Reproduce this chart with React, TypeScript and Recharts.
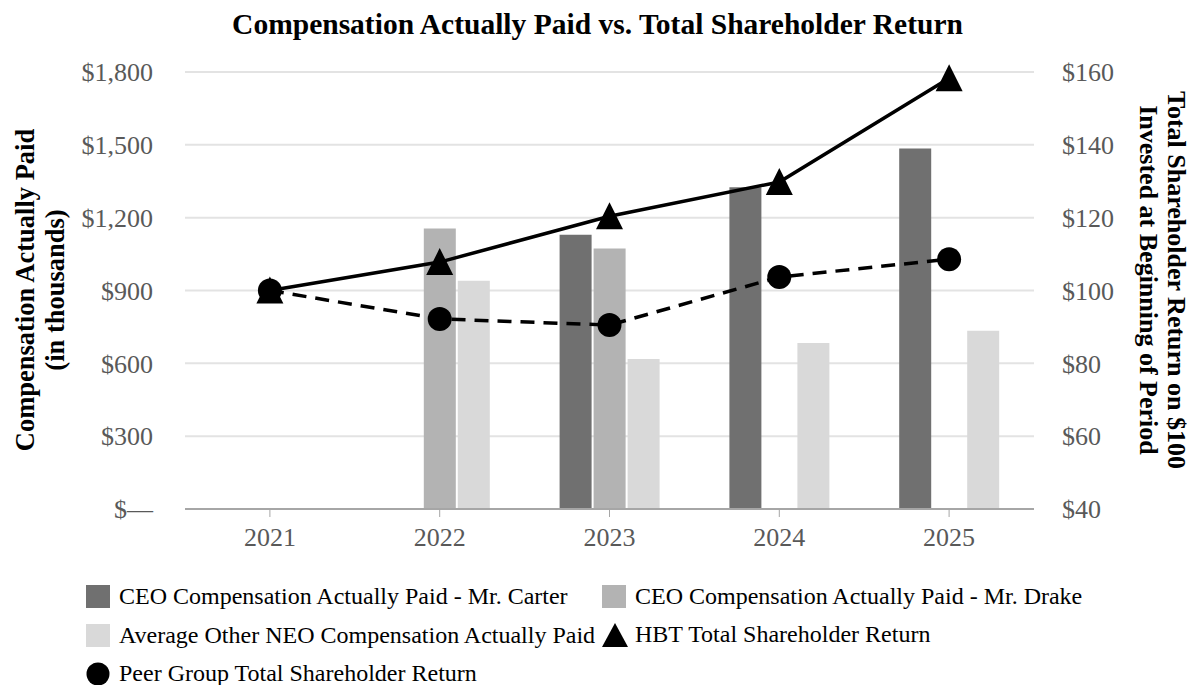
import React from 'react';
import { ComposedChart, Bar, Line, XAxis, YAxis, CartesianGrid } from 'recharts';

const years = ['2021', '2022', '2023', '2024', '2025'];
const carterCap = [null, null, 1130, 1325, 1485];
const drakeCap = [null, 1155, 1073, null, null];
const otherNeoCap = [null, 940, 618, 684, 734];
const hbtTsr = [100, 107.8, 120.4, 129.8, 158.3];
const peerTsr = [100, 92.2, 90.5, 103.7, 108.6];

const leftTicks = [0, 300, 600, 900, 1200, 1500, 1800];
const rightTicks = [40, 60, 80, 100, 120, 140, 160];

const data = years.map((year, i) => ({
  year,
  carter: carterCap[i],
  drake: drakeCap[i],
  other: otherNeoCap[i],
  hbt: hbtTsr[i],
  peer: peerTsr[i],
}));

const FONT = "'Liberation Serif', 'Times New Roman', serif";
const TICK_GRAY = '#595959';

const fmtLeft = (v: number) => (v === 0 ? '$—' : '$' + v.toLocaleString('en-US'));
const fmtRight = (v: number) => '$' + v;

const Triangle = (props: any) => {
  const { cx, cy } = props;
  if (cx == null || cy == null) return null;
  return <path d={`M${cx},${cy - 14} L${cx + 13.5},${cy + 13} L${cx - 13.5},${cy + 13} Z`} fill="#000" />;
};

const Circle = (props: any) => {
  const { cx, cy } = props;
  if (cx == null || cy == null) return null;
  return <circle cx={cx} cy={cy} r={12} fill="#000" />;
};

const Swatch = ({ color }: { color: string }) => (
  <span style={{ display: 'inline-block', width: 24, height: 23, background: color, marginRight: 9 }} />
);

const legendRow: React.CSSProperties = { position: 'absolute', display: 'flex', alignItems: 'center', whiteSpace: 'nowrap' };

export default function App() {
  return (
    <div style={{ position: 'relative', width: 1195, height: 685, fontFamily: FONT, background: '#fff', overflow: 'hidden' }}>
      <style>{`body{margin:0}`}</style>

      {/* Title */}
      <div style={{ position: 'absolute', top: 7, left: 0, width: 1195, textAlign: 'center', fontSize: 29.5, fontWeight: 'bold', lineHeight: '34px' }}>
        Compensation Actually Paid vs. Total Shareholder Return
      </div>

      <ComposedChart
        width={1195}
        height={560}
        data={data}
        margin={{ top: 72, right: 51, bottom: 11, left: 85 }}
        barGap={2}
        barSize={32}
        style={{ fontFamily: FONT }}
      >
        <CartesianGrid vertical={false} stroke="#e3e3e3" strokeWidth={2} yAxisId="left" />
        <XAxis
          dataKey="year"
          height={40}
          tick={{ fontSize: 26, fill: TICK_GRAY, fontFamily: FONT }}
          axisLine={{ stroke: '#a6a6a6', strokeWidth: 2 }}
          tickLine={{ stroke: '#a6a6a6' }}
          tickSize={8}
          tickMargin={11}
        />
        <YAxis
          yAxisId="left"
          orientation="left"
          width={100}
          domain={[0, 1800]}
          ticks={leftTicks}
          tickFormatter={fmtLeft}
          tick={{ fontSize: 26, fill: TICK_GRAY, fontFamily: FONT }}
          axisLine={false}
          tickLine={false}
          tickSize={8}
          tickMargin={24}
        />
        <YAxis
          yAxisId="right"
          orientation="right"
          width={110}
          domain={[40, 160]}
          ticks={rightTicks}
          tickFormatter={fmtRight}
          tick={{ fontSize: 26, fill: TICK_GRAY, fontFamily: FONT }}
          axisLine={false}
          tickLine={false}
          tickSize={8}
          tickMargin={20}
        />
        <Bar yAxisId="left" dataKey="carter" fill="#707070" isAnimationActive={false} />
        <Bar yAxisId="left" dataKey="drake" fill="#b3b3b3" isAnimationActive={false} />
        <Bar yAxisId="left" dataKey="other" fill="#d9d9d9" isAnimationActive={false} />
        <Line
          yAxisId="right"
          dataKey="peer"
          stroke="#000"
          strokeWidth={3.5}
          strokeDasharray="14 9"
          dot={<Circle />}
          activeDot={false}
          isAnimationActive={false}
        />
        <Line
          yAxisId="right"
          dataKey="hbt"
          stroke="#000"
          strokeWidth={3.5}
          dot={<Triangle />}
          activeDot={false}
          isAnimationActive={false}
        />
      </ComposedChart>

      {/* Left axis title */}
      <div
        style={{
          position: 'absolute', left: 40, top: 290, width: 440, transform: 'translate(-50%, -50%) rotate(-90deg)',
          textAlign: 'center', fontSize: 26.5, fontWeight: 'bold', lineHeight: '30px', whiteSpace: 'nowrap',
        }}
      >
        Compensation Actually Paid<br />(in thousands)
      </div>

      {/* Right axis title */}
      <div
        style={{
          position: 'absolute', left: 1162, top: 280, width: 460, transform: 'translate(-50%, -50%) rotate(90deg)',
          textAlign: 'center', fontSize: 26, fontWeight: 'bold', lineHeight: '28px', whiteSpace: 'nowrap',
        }}
      >
        Total Shareholder Return on $100<br />Invested at Beginning of Period
      </div>

      {/* Legend */}
      <div style={{ fontSize: 24, color: '#000' }}>
        <div style={{ ...legendRow, left: 86, top: 583 }}>
          <Swatch color="#707070" />CEO Compensation Actually Paid - Mr. Carter
        </div>
        <div style={{ ...legendRow, left: 602, top: 583 }}>
          <Swatch color="#b3b3b3" />CEO Compensation Actually Paid - Mr. Drake
        </div>
        <div style={{ ...legendRow, left: 86, top: 622 }}>
          <Swatch color="#d9d9d9" />Average Other NEO Compensation Actually Paid
        </div>
        <div style={{ ...legendRow, left: 601, top: 621 }}>
          <svg width={28} height={26} style={{ marginRight: 6 }}>
            <path d="M14,1 L27,25 L1,25 Z" fill="#000" />
          </svg>
          HBT Total Shareholder Return
        </div>
        <div style={{ ...legendRow, left: 86, top: 660 }}>
          <svg width={24} height={24} style={{ marginRight: 9 }}>
            <circle cx={12} cy={12} r={11.5} fill="#000" />
          </svg>
          Peer Group Total Shareholder Return
        </div>
      </div>
    </div>
  );
}
